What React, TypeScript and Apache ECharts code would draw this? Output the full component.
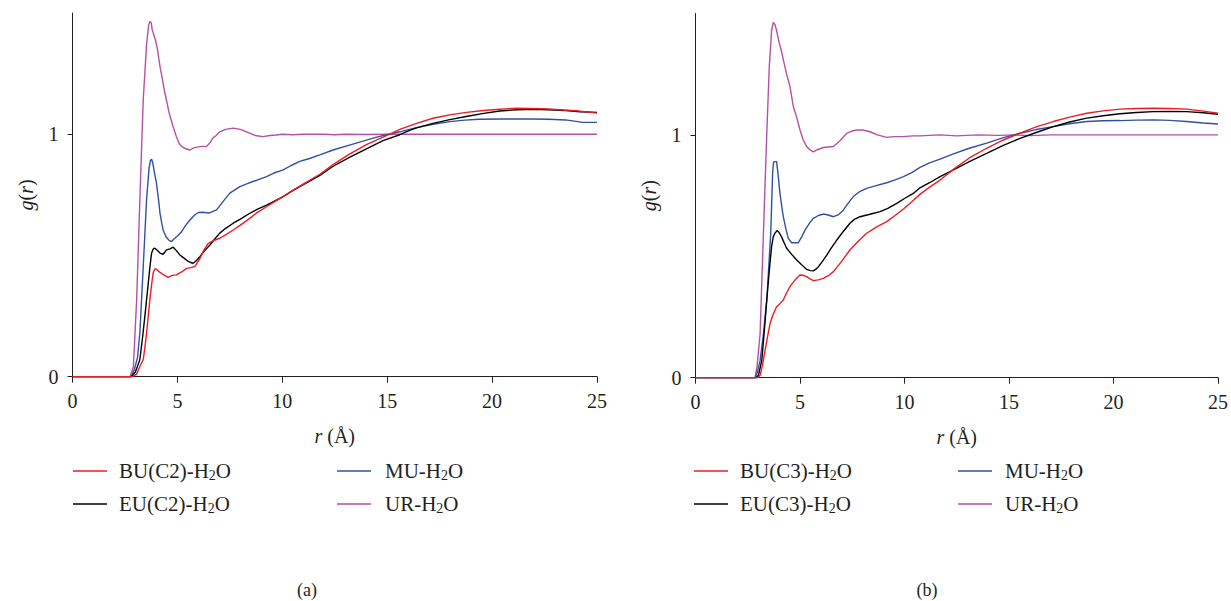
import React, { useEffect, useRef } from "react";
import * as echarts from "echarts";

// ---- Data: g(r) curves, [r (Å), g(r)] ----
// Panel (a)
const buC2: number[][] = [[0,0],[2.85,0],[3.05,0.01],[3.2,0.04],[3.37,0.07],[3.45,0.12],[3.53,0.18],[3.61,0.25],[3.69,0.32],[3.77,0.38],[3.85,0.43],[3.93,0.445],[4.0,0.443],[4.17,0.43],[4.35,0.42],[4.56,0.41],[4.75,0.418],[4.96,0.42],[5.2,0.432],[5.44,0.447],[5.65,0.45],[5.83,0.454],[5.95,0.47],[6.07,0.487],[6.25,0.52],[6.47,0.55],[6.7,0.56],[7.02,0.571],[7.3,0.585],[7.66,0.605],[8.0,0.625],[8.45,0.653],[8.8,0.677],[9.25,0.701],[9.6,0.72],[10.04,0.743],[10.4,0.763],[10.83,0.786],[11.3,0.81],[11.79,0.835],[12.42,0.875],[13.2,0.918],[14.01,0.957],[14.8,0.988],[15.28,1.007],[15.6,1.02],[16.4,1.045],[17.18,1.066],[17.98,1.08],[18.77,1.09],[19.6,1.098],[20.36,1.103],[21.15,1.107],[21.9,1.106],[22.7,1.104],[23.4,1.1],[24.0,1.097],[24.5,1.092],[25,1.087]];
const euC2: number[][] = [[0,0],[2.8,0],[3.0,0.02],[3.21,0.07],[3.35,0.17],[3.45,0.25],[3.61,0.385],[3.7,0.46],[3.77,0.51],[3.85,0.527],[3.93,0.53],[4.05,0.52],[4.17,0.51],[4.32,0.505],[4.48,0.523],[4.65,0.527],[4.8,0.534],[4.95,0.52],[5.12,0.502],[5.3,0.49],[5.44,0.48],[5.6,0.472],[5.75,0.468],[5.9,0.478],[6.07,0.495],[6.3,0.52],[6.55,0.543],[6.8,0.57],[7.02,0.592],[7.3,0.612],[7.66,0.633],[8.0,0.65],[8.45,0.674],[8.8,0.69],[9.25,0.708],[9.6,0.723],[10.04,0.743],[10.4,0.762],[10.83,0.784],[11.3,0.807],[11.79,0.83],[12.42,0.868],[13.2,0.905],[14.01,0.94],[14.8,0.974],[15.6,0.998],[16.07,1.016],[16.4,1.026],[17.18,1.045],[17.98,1.06],[18.77,1.073],[19.6,1.086],[20.36,1.096],[21.2,1.101],[21.94,1.103],[22.7,1.101],[23.5,1.098],[24.2,1.093],[25,1.09]];
const muA: number[][] = [[0,0],[2.8,0],[2.95,0.03],[3.1,0.08],[3.21,0.18],[3.37,0.45],[3.53,0.73],[3.65,0.86],[3.72,0.893],[3.77,0.897],[3.83,0.88],[3.9,0.845],[4.0,0.8],[4.1,0.73],[4.17,0.674],[4.25,0.635],[4.32,0.605],[4.45,0.578],[4.6,0.562],[4.72,0.557],[4.8,0.565],[5.0,0.58],[5.2,0.598],[5.4,0.625],[5.6,0.646],[5.8,0.665],[5.99,0.677],[6.2,0.678],[6.5,0.675],[6.87,0.688],[7.2,0.725],[7.5,0.757],[7.98,0.784],[8.3,0.795],[8.6,0.805],[9.25,0.825],[9.6,0.84],[10.04,0.853],[10.4,0.87],[10.83,0.888],[11.3,0.9],[11.79,0.915],[12.42,0.935],[13.2,0.955],[14.01,0.976],[14.5,0.988],[14.96,0.998],[15.6,1.01],[16.39,1.027],[17.2,1.041],[17.98,1.052],[18.7,1.058],[19.4,1.062],[20.5,1.063],[21.9,1.063],[22.7,1.062],[23.5,1.059],[24.0,1.053],[24.3,1.049],[25,1.049]];
const urA: number[][] = [[0,0],[2.74,0],[2.9,0.04],[3.06,0.32],[3.21,0.73],[3.37,1.14],[3.53,1.37],[3.63,1.45],[3.69,1.465],[3.75,1.46],[3.8,1.43],[3.85,1.417],[3.95,1.39],[4.05,1.35],[4.17,1.28],[4.3,1.22],[4.4,1.17],[4.48,1.14],[4.6,1.09],[4.7,1.06],[4.8,1.03],[4.95,0.99],[5.1,0.96],[5.2,0.95],[5.4,0.94],[5.6,0.935],[5.8,0.945],[6.0,0.948],[6.2,0.95],[6.39,0.95],[6.55,0.965],[6.7,0.985],[6.85,0.995],[7.02,1.01],[7.3,1.02],[7.66,1.025],[8.0,1.02],[8.3,1.01],[8.7,0.995],[9.08,0.99],[9.4,0.995],[9.7,0.997],[10.0,1.0],[10.5,0.998],[11,1.0],[12,1.0],[12.5,0.998],[13,1.0],[14,0.999],[15,1.0],[16,1.0],[18,1.0],[20,1.0],[22,1.0],[25,1.0]];
// Panel (b)
const buC3: number[][] = [[0,0],[2.98,0],[3.09,0.01],[3.2,0.05],[3.33,0.114],[3.45,0.17],[3.57,0.224],[3.72,0.262],[3.88,0.292],[4.04,0.305],[4.2,0.32],[4.36,0.35],[4.52,0.375],[4.76,0.402],[5.0,0.423],[5.16,0.422],[5.32,0.416],[5.48,0.407],[5.64,0.4],[5.88,0.403],[6.12,0.409],[6.35,0.42],[6.6,0.437],[7.0,0.48],[7.39,0.526],[7.8,0.563],[8.19,0.595],[8.65,0.62],[9.15,0.643],[9.55,0.668],[9.95,0.695],[10.35,0.725],[10.74,0.755],[11.2,0.785],[11.7,0.814],[12.34,0.858],[13.1,0.905],[13.93,0.945],[14.7,0.978],[15.53,1.007],[16.3,1.033],[17.12,1.055],[17.9,1.073],[18.72,1.089],[19.5,1.099],[20.31,1.106],[21.1,1.109],[21.91,1.11],[22.7,1.109],[23.5,1.106],[24.3,1.098],[25,1.089]];
const euC3: number[][] = [[0,0],[2.9,0],[3.01,0.01],[3.17,0.07],[3.3,0.2],[3.41,0.32],[3.52,0.43],[3.64,0.54],[3.72,0.58],[3.8,0.595],[3.91,0.606],[4.0,0.598],[4.12,0.58],[4.24,0.556],[4.36,0.533],[4.6,0.508],[4.84,0.485],[5.08,0.465],[5.32,0.446],[5.5,0.441],[5.64,0.44],[5.76,0.447],[5.88,0.457],[6.08,0.48],[6.28,0.505],[6.5,0.535],[6.76,0.567],[7.05,0.6],[7.39,0.636],[7.6,0.652],[7.87,0.663],[8.3,0.672],[8.83,0.684],[9.2,0.697],[9.63,0.718],[10.0,0.738],[10.42,0.759],[10.74,0.782],[11.2,0.803],[11.7,0.828],[12.34,0.856],[13.1,0.89],[13.93,0.924],[14.7,0.956],[15.53,0.986],[16.3,1.01],[17.12,1.034],[17.9,1.053],[18.72,1.069],[19.5,1.079],[20.31,1.087],[21.1,1.092],[21.91,1.096],[22.7,1.097],[23.5,1.096],[24.3,1.091],[25,1.085]];
const muB: number[][] = [[0,0],[2.85,0],[2.95,0.02],[3.09,0.07],[3.25,0.18],[3.41,0.32],[3.6,0.595],[3.69,0.842],[3.73,0.885],[3.77,0.89],[3.88,0.89],[3.96,0.83],[4.04,0.76],[4.12,0.71],[4.2,0.663],[4.32,0.615],[4.44,0.574],[4.6,0.556],[4.92,0.556],[5.08,0.58],[5.24,0.608],[5.44,0.635],[5.64,0.656],[5.88,0.668],[6.12,0.674],[6.35,0.67],[6.6,0.663],[6.85,0.672],[7.07,0.69],[7.3,0.718],[7.55,0.746],[7.85,0.766],[8.19,0.78],[8.6,0.79],[9.15,0.803],[9.55,0.815],[9.95,0.828],[10.35,0.845],[10.74,0.866],[11.2,0.885],[11.7,0.9],[12.34,0.922],[13.1,0.945],[13.93,0.966],[14.7,0.988],[15.53,1.007],[16.3,1.022],[17.12,1.034],[17.9,1.046],[18.72,1.055],[19.5,1.058],[20.31,1.059],[21.1,1.061],[21.91,1.062],[22.7,1.06],[23.5,1.055],[24.3,1.049],[25,1.045]];
const urB: number[][] = [[0,0],[2.85,0],[2.95,0.05],[3.09,0.18],[3.25,0.595],[3.41,1.006],[3.53,1.28],[3.64,1.43],[3.72,1.463],[3.8,1.455],[3.88,1.43],[4.0,1.38],[4.1,1.35],[4.2,1.31],[4.36,1.25],[4.52,1.2],[4.68,1.117],[4.85,1.07],[5.0,1.02],[5.15,0.98],[5.32,0.952],[5.48,0.938],[5.64,0.93],[5.85,0.94],[6.12,0.948],[6.35,0.95],[6.6,0.952],[6.9,0.975],[7.23,1.006],[7.45,1.015],[7.71,1.02],[8.0,1.02],[8.35,1.013],[8.7,1.0],[9.15,0.99],[9.5,0.993],[9.95,0.993],[10.4,0.996],[10.74,0.996],[11.2,0.998],[11.7,1.0],[12.5,0.996],[13.5,1.0],[14.5,0.998],[15.3,1.0],[16,0.997],[17,1.0],[19,1.0],[22,1.0],[25,1.0]];

const xTicks = [0, 5, 10, 15, 20, 25];
const yTicks = [0, 1];

const FONT = "Liberation Serif";
const INK = "#231f20";
const RED = "#ed1c24";
const BLACK = "#000000";
const BLUE = "#3150a2";
const MAGENTA = "#b54fa8";

const displayNames: Record<string, string> = {
  "BU(C2)": "BU(C2)-H{s|2}O",
  "EU(C2)": "EU(C2)-H{s|2}O",
  "MU (a)": "MU-H{s|2}O",
  "UR (a)": "UR-H{s|2}O",
  "BU(C3)": "BU(C3)-H{s|2}O",
  "EU(C3)": "EU(C3)-H{s|2}O",
  "MU (b)": "MU-H{s|2}O",
  "UR (b)": "UR-H{s|2}O",
};

export default function App() {
  const ref = useRef<HTMLDivElement>(null);
  useEffect(() => {
    if (!ref.current) return;
    const chart = echarts.init(ref.current, null, { renderer: "svg" });

    const grids = [
      { left: 72.5, top: 13, width: 524.5, height: 363.7 },
      { left: 695.5, top: 13.5, width: 522.5, height: 364.2 },
    ];
    const nameStyle = {
      fontFamily: FONT,
      fontSize: 20,
      color: INK,
      rich: { i: { fontFamily: FONT, fontSize: 20, fontStyle: "italic", color: INK } },
    };
    const xAxis = grids.map((_, i) => ({
      type: "value",
      gridIndex: i,
      min: 0,
      max: 25,
      interval: 5,
      name: "{i|r} (Å)",
      nameLocation: "middle",
      nameGap: 49,
      nameTextStyle: nameStyle,
      axisLine: { show: true, lineStyle: { color: INK, width: 1 } },
      axisTick: { show: true, length: 6, lineStyle: { color: INK }, customValues: xTicks },
      axisLabel: { fontFamily: FONT, fontSize: 20, color: INK, margin: 14, customValues: xTicks },
      splitLine: { show: false },
    }));
    const yAxis = grids.map((_, i) => ({
      type: "value",
      gridIndex: i,
      min: 0,
      max: 1.5,
      name: "{i|g}({i|r})",
      nameLocation: "middle",
      nameGap: 37,
      nameRotate: 90,
      nameTextStyle: nameStyle,
      axisLine: { show: true, lineStyle: { color: INK, width: 1 } },
      axisTick: { show: true, length: 5, lineStyle: { color: INK }, customValues: yTicks },
      axisLabel: { fontFamily: FONT, fontSize: 20, color: INK, margin: 14, customValues: yTicks },
      splitLine: { show: false },
    }));

    const mk = (name: string, data: number[][], color: string, idx: number) => ({
      name,
      type: "line",
      xAxisIndex: idx,
      yAxisIndex: idx,
      data,
      showSymbol: false,
      symbol: "none",
      smooth: false,
      silent: true,
      lineStyle: { color, width: 1.4 },
      itemStyle: { color },
      z: 2,
    });

    const series = [
      mk("UR (a)", urA, MAGENTA, 0),
      mk("MU (a)", muA, BLUE, 0),
      mk("EU(C2)", euC2, BLACK, 0),
      mk("BU(C2)", buC2, RED, 0),
      mk("UR (b)", urB, MAGENTA, 1),
      mk("MU (b)", muB, BLUE, 1),
      mk("EU(C3)", euC3, BLACK, 1),
      mk("BU(C3)", buC3, RED, 1),
    ];

    const legendBase = (padLeft: number) => ({
      orient: "vertical",
      icon: "rect",
      itemWidth: 34,
      itemHeight: 1.6,
      itemGap: 11,
      padding: 0,
      selectedMode: false,
      formatter: (n: string) => displayNames[n] || n,
      textStyle: {
        fontFamily: FONT,
        fontSize: 21,
        color: INK,
        lineHeight: 22,
        padding: [0, 0, 0, padLeft],
        rich: {
          s: { fontFamily: FONT, fontSize: 14, color: INK, lineHeight: 10, verticalAlign: "bottom" },
        },
      },
    });
    const legends = [
      { ...legendBase(7), left: 73, top: 460, data: ["BU(C2)", "EU(C2)"] },
      { ...legendBase(9), left: 337, top: 460, data: ["MU (a)", "UR (a)"] },
      { ...legendBase(7), left: 694, top: 460, data: ["BU(C3)", "EU(C3)"] },
      { ...legendBase(8), left: 958, top: 460, data: ["MU (b)", "UR (b)"] },
    ];

    chart.setOption({
      animation: false,
      backgroundColor: "#ffffff",
      grid: grids,
      xAxis,
      yAxis,
      legend: legends,
      series,
      graphic: [
        {
          type: "text",
          x: 307,
          y: 590,
          style: { text: "(a)", fontFamily: FONT, fontSize: 18, fill: INK, align: "center", verticalAlign: "middle" },
        },
        {
          type: "text",
          x: 927,
          y: 590,
          style: { text: "(b)", fontFamily: FONT, fontSize: 18, fill: INK, align: "center", verticalAlign: "middle" },
        },
      ],
    });
    return () => chart.dispose();
  }, []);
  return (
    <div
      ref={ref}
      style={{ position: "absolute", left: 0, top: 0, width: 1231, height: 601 }}
    />
  );
}
